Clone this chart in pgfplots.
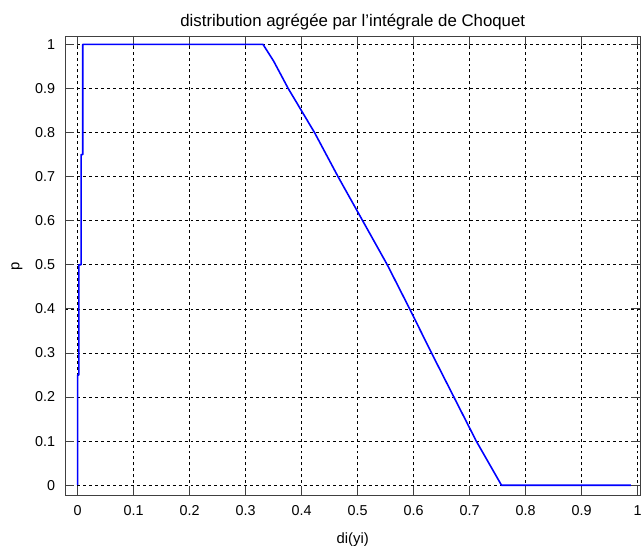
\documentclass[border=0pt]{standalone}
\usepackage{pgfplots}
\pgfplotsset{compat=1.18}
\usepackage{fontspec}
\setmainfont{Liberation Sans}
\begin{document}
\begin{tikzpicture}
\begin{axis}[
  scale only axis,
  width=579bp, height=462bp,
  xmin=-0.0218, xmax=1.0045,
  ymin=-0.0225, ymax=1.0173,
  xtick={0,0.1,...,1.0001},
  ytick={0,0.1,...,1.0001},
  xticklabels={0,0.1,0.2,0.3,0.4,0.5,0.6,0.7,0.8,0.9,1},
  yticklabels={0,0.1,0.2,0.3,0.4,0.5,0.6,0.7,0.8,0.9,1},
  tick align=inside,
  major tick length=9bp,
  tick style={black!75, line width=0.9bp},
  axis line style={black!75, line width=0.9bp},
  grid=major,
  major grid style={black, dash pattern=on 3bp off 3bp, line width=0.7bp},
  tick label style={font=\fontsize{14.5}{16}\selectfont},
  xticklabel style={yshift=-7bp},
  yticklabel style={xshift=-7bp},
  title={distribution agrégée par l'intégrale de Choquet},
  title style={font=\fontsize{17}{19}\selectfont, yshift=-3bp},
  xlabel={di(yi)},
  ylabel={p},
  label style={font=\fontsize{15}{17}\selectfont},
  xlabel style={yshift=-10bp},
  ylabel style={yshift=6bp},
]
\addplot[blue, line width=1.6bp, line join=round] coordinates {
(0,0) (0,0.25) (0.002,0.25) (0.002,0.5) (0.006,0.5) (0.006,0.75) (0.009,0.75) (0.009,1)
(0.331,1) (0.350,0.962) (0.376,0.9) (0.423,0.8) (0.465,0.7) (0.509,0.6) (0.553,0.5)
(0.593,0.4) (0.632,0.3) (0.672,0.2) (0.712,0.1) (0.757,0) (0.988,0)
};
\coordinate (A) at (rel axis cs:0,0);
\coordinate (B) at (rel axis cs:1,1);
\end{axis}
\pgfresetboundingbox
\path ([xshift=-66bp,yshift=-51bp]A) rectangle ([xshift=4bp,yshift=37bp]B);
\end{tikzpicture}
\end{document}
